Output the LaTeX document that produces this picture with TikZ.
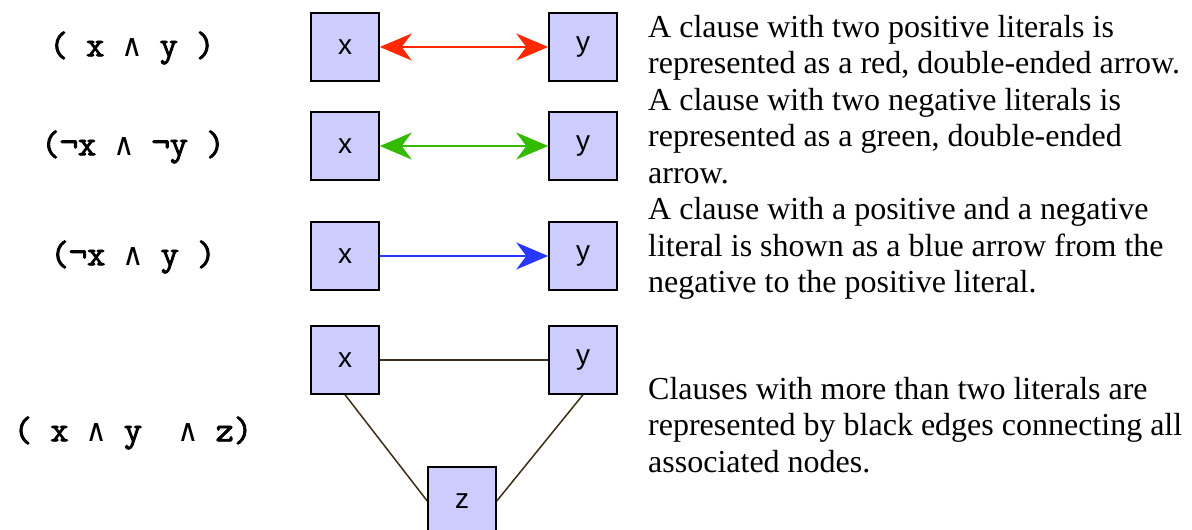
\documentclass[tikz,border=0pt]{standalone}
\usepackage{fontspec}
\usepackage{tikz}
\usetikzlibrary{arrows.meta}
\setmainfont{Liberation Serif}
\newfontfamily\clausefont[FakeBold=2.5]{Latin Modern Mono}
\newfontfamily\andfont{DejaVu Sans Mono}
\newfontfamily\boxfont{Liberation Sans}
\definecolor{boxfill}{RGB}{204,204,255}
\definecolor{posred}{RGB}{255,40,0}
\definecolor{neggreen}{RGB}{51,187,0}
\definecolor{mixblue}{RGB}{40,56,255}
\definecolor{edgebrown}{RGB}{60,45,20}
\newcommand{\W}{\makebox[0.525em]{\andfont\mdseries\fontsize{31}{36}\selectfont ∧}}

\begin{document}
\begin{tikzpicture}[x=1pt,y=-1pt,
  lit/.style={draw=black, line width=1.5pt, fill=boxfill, minimum width=68pt, minimum height=68pt, inner sep=0pt, font=\boxfont\fontsize{28}{32}\selectfont},
  clause/.style={font=\clausefont\bfseries\fontsize{35.5}{40}\selectfont, inner sep=0pt},
  note/.style={anchor=base west, align=left, inner sep=0pt, font=\fontsize{32}{36.5}\selectfont},
  tip/.style={-{Stealth[length=32pt, width=27pt, inset=10pt]}},
  bothtip/.style={{Stealth[length=32pt, width=27pt, inset=10pt]}-{Stealth[length=32pt, width=27pt, inset=10pt]}},
  edge/.style={draw=edgebrown, line width=1.5pt}]
\useasboundingbox (0,0) rectangle (1192,530);

% clauses
\node [clause] (ca) at (132,48) {( x \W{} y )};
\node [clause] (cb) at (133,147) {(¬x \W{} ¬y )};
\node [clause] (cc) at (133,257) {(¬x \W{} y )};
\node [clause] (cd) at (133,433) {( x \W{} y~~\W{} z)};

% literal boxes
\node [lit] (xa) at (345,47) {x};
\node [lit] (ya) at (583,47) {y};
\node [lit] (xb) at (345,146) {x};
\node [lit] (yb) at (583,146) {y};
\node [lit] (xc) at (345,256) {x};
\node [lit] (yc) at (583,256) {y};
\node [lit] (xd) at (345,360) {x};
\node [lit] (yd) at (583,360) {y};
\node [lit] (zd) at (462,501) {z};

% connectors
\draw [bothtip, posred, line width=2pt] (xa) -- (ya);
\draw [bothtip, neggreen, line width=2pt] (xb) -- (yb);
\draw [tip, mixblue, line width=2pt] (xc) -- (yc);
\draw [edge] (xd) -- (yd);
\draw [edge] (xd.south) -- (zd.west);
\draw [edge] (yd.south) -- (zd.east);

% explanations
\node [note] (na) at (648,73.5) {A clause with two positive literals is\\represented as a red, double-ended arrow.};
\node [note] (nb) at (648,183) {A clause with two negative literals is\\represented as a green, double-ended\\arrow.};
\node [note] (nc) at (648,292.5) {A clause with a positive and a negative\\literal is shown as a blue arrow from the\\negative to the positive literal.};
\node [note] (nd) at (648,472) {Clauses with more than two literals are\\represented by black edges connecting all\\associated nodes.};

\end{tikzpicture}
\end{document}
